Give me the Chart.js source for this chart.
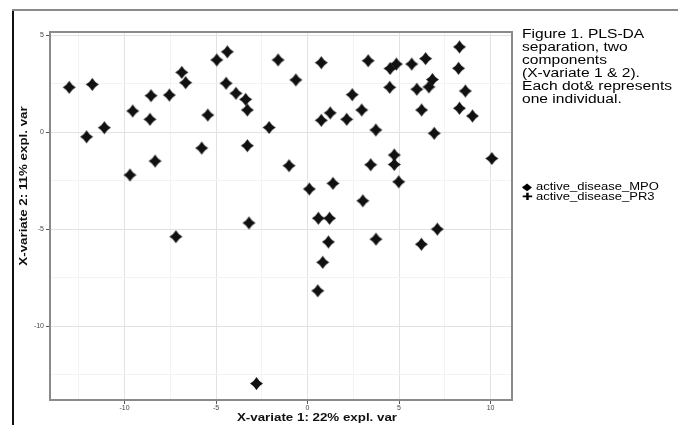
<!DOCTYPE html>
<html>
<head>
<meta charset="utf-8">
<script src="https://cdn.jsdelivr.net/npm/chart.js@4/dist/chart.umd.min.js"></script>
<style>
  html, body { margin: 0; padding: 0; background: #fff; }
  #wrap { position: relative; width: 678px; height: 425px; overflow: hidden; }
  #chart { position: absolute; left: 0; top: 0; }
  .frameLeft { position: absolute; left: 12px; top: 9px; width: 2px; height: 416px; background: #111; }
  .frameTop { position: absolute; left: 12px; top: 9px; width: 666px; height: 2px; background: #8a8a8a; }
  .caption {
    position: absolute; left: 522px; top: 28px; white-space: nowrap;
    font-family: "Liberation Sans", Arial, sans-serif; font-size: 12px; line-height: 13px;
    color: #000; transform: scaleX(1.3); transform-origin: left top;
  }
  .legend {
    position: absolute; left: 522px; top: 182px; white-space: nowrap;
    font-family: "Liberation Sans", Arial, sans-serif; font-size: 10px; line-height: 10px;
    color: #000; transform: scaleX(1.3); transform-origin: left top;
  }
  .axisTitle {
    position: absolute; white-space: nowrap;
    font-family: "Liberation Sans", Arial, sans-serif; font-size: 10.5px; font-weight: bold;
    line-height: 12px; color: #111;
  }
  .xTitle { left: 317px; top: 417px; transform: translate(-50%, -50%) scaleX(1.27); }
  .yTitle { left: 23px; top: 186px; transform: translate(-50%, -50%) rotate(-90deg) scaleX(1.27); }
</style>
</head>
<body>
<div id="wrap">
  <canvas id="chart" width="678" height="425"></canvas>
  <div class="frameLeft"></div>
  <div class="frameTop"></div>
  <div class="axisTitle xTitle">X-variate 1: 22% expl. var</div>
  <div class="axisTitle yTitle">X-variate 2: 11% expl. var</div>
  <div class="caption">Figure 1. PLS-DA<br>separation, two<br>components<br>(X-variate 1 &amp; 2).<br>Each dot&amp; represents<br>one individual.</div>
  <div class="legend">&#9670; active_disease_MPO<br>&#10010; active_disease_PR3</div>
</div>
<script>
// Componente 1 (X-variate 1) e componente 2 (X-variate 2)
const mpoX = [0.75, 3.31, 4.51, 4.85, 5.69, 6.45, 8.30, 8.25, 6.82, 6.63, 5.97, 4.49, 8.62, 2.44,
  1.24, 0.75, 2.14, 2.96, 6.23, 8.30, 9.01, 3.73, 6.92, 4.74, 4.74, 10.07, 3.45, 4.98, 0.10,
  1.39, 3.02, 0.59, 1.20, 1.14, 3.74, 6.22, 7.09, 0.83, 0.56]
const mpoY = [3.60, 3.70, 3.30, 3.53, 3.53, 3.81, 4.41, 3.31, 2.73, 2.35, 2.23, 2.33, 2.14, 1.95,
  1.01, 0.63, 0.68, 1.16, 1.16, 1.25, 0.85, 0.13, -0.04, -1.16, -1.65, -1.34, -1.66, -2.54, -2.91,
  -2.62, -3.52, -4.42, -4.42, -5.64, -5.50, -5.76, -4.98, -6.69, -8.16]

const pr3X = [-13.02, -11.76, -12.07, -11.10, -9.55, -8.55, -8.61, -7.55, -6.87, -6.66, -4.96,
  -4.38, -4.45, -3.91, -3.38, -3.29, -5.45, -2.10, -5.78, -3.29, -8.33, -9.70, -3.20, -7.19,
  -2.79, -1.61, -0.64, -1.01]
const pr3Y = [2.33, 2.48, -0.22, 0.25, 1.11, 1.90, 0.68, 1.93, 3.10, 2.57, 3.74,
  4.16, 2.54, 2.02, 1.71, 1.16, 0.90, 0.26, -0.80, -0.68, -1.47, -2.19, -4.66, -5.37,
  -12.94, 3.74, 2.71, -1.71]

const xTicks = [-10, -5, 0, 5, 10]
const yTicks = [-10, -5, 0, 5]

const toPoints = (xs, ys) => xs.map((x, i) => ({ x: x, y: ys[i] }))

// marcador: losango com lados levemente côncavos
function makeMarker(r) {
  const c = document.createElement('canvas')
  const s = 2 * r + 2
  c.width = s
  c.height = s
  const g = c.getContext('2d')
  const m = s / 2
  const k = 2.3
  g.fillStyle = '#111'
  g.beginPath()
  g.moveTo(m, m - r)
  g.quadraticCurveTo(m + k, m - k, m + r, m)
  g.quadraticCurveTo(m + k, m + k, m, m + r)
  g.quadraticCurveTo(m - k, m + k, m - r, m)
  g.quadraticCurveTo(m - k, m - k, m, m - r)
  g.fill()
  g.beginPath()
  g.arc(m, m, 3.6, 0, Math.PI * 2)
  g.fill()
  return c
}
const marker = makeMarker(6.5)

const isMajor = v => Math.abs(v / 5 - Math.round(v / 5)) < 1e-6

// moldura cinza em volta da área do gráfico
const frame = {
  id: 'frame',
  afterDraw(chart) {
    const a = chart.chartArea
    const ctx = chart.ctx
    ctx.save()
    ctx.strokeStyle = '#8a8a8a'
    ctx.lineWidth = 2
    ctx.strokeRect(a.left, a.top, a.right - a.left, a.bottom - a.top)
    ctx.restore()
  }
}

const gridOpts = {
  color: ctx => (ctx.tick && isMajor(ctx.tick.value)) ? '#e2e2e2' : '#f3f3f3',
  tickColor: ctx => (ctx.tick && isMajor(ctx.tick.value)) ? '#555' : 'rgba(0,0,0,0)',
  tickLength: 4,
  drawTicks: true
}

new Chart(document.getElementById('chart'), {
  type: 'scatter',
  data: {
    datasets: [
      {
        label: 'active_disease_MPO',
        data: toPoints(mpoX, mpoY),
        pointStyle: marker,
        pointRadius: 6.5,
        pointHoverRadius: 6.5
      },
      {
        label: 'active_disease_PR3',
        data: toPoints(pr3X, pr3Y),
        pointStyle: marker,
        pointRadius: 6.5,
        pointHoverRadius: 6.5
      }
    ]
  },
  options: {
    responsive: false,
    animation: false,
    layout: { padding: { left: 14, top: 32, right: 166, bottom: 0 } },
    plugins: {
      legend: { display: false },
      tooltip: { enabled: false }
    },
    scales: {
      x: {
        type: 'linear',
        min: -14.07,
        max: 11.17,
        afterFit: s => { s.height = 25 },
        border: { display: false },
        grid: gridOpts,
        ticks: {
          stepSize: 2.5,
          includeBounds: false,
          autoSkip: false,
          maxRotation: 0,
          padding: 0,
          color: '#444',
          font: { family: 'Liberation Sans', size: 7 },
          callback: v => xTicks.includes(v) ? String(v) : ''
        }
      },
      y: {
        type: 'linear',
        min: -13.79,
        max: 5.18,
        afterFit: s => { s.width = 36 },
        border: { display: false },
        grid: gridOpts,
        ticks: {
          stepSize: 2.5,
          includeBounds: false,
          autoSkip: false,
          padding: 2,
          color: '#444',
          font: { family: 'Liberation Sans', size: 7 },
          callback: v => yTicks.includes(v) ? String(v) : ''
        }
      }
    }
  },
  plugins: [frame]
})
</script>
</body>
</html>
